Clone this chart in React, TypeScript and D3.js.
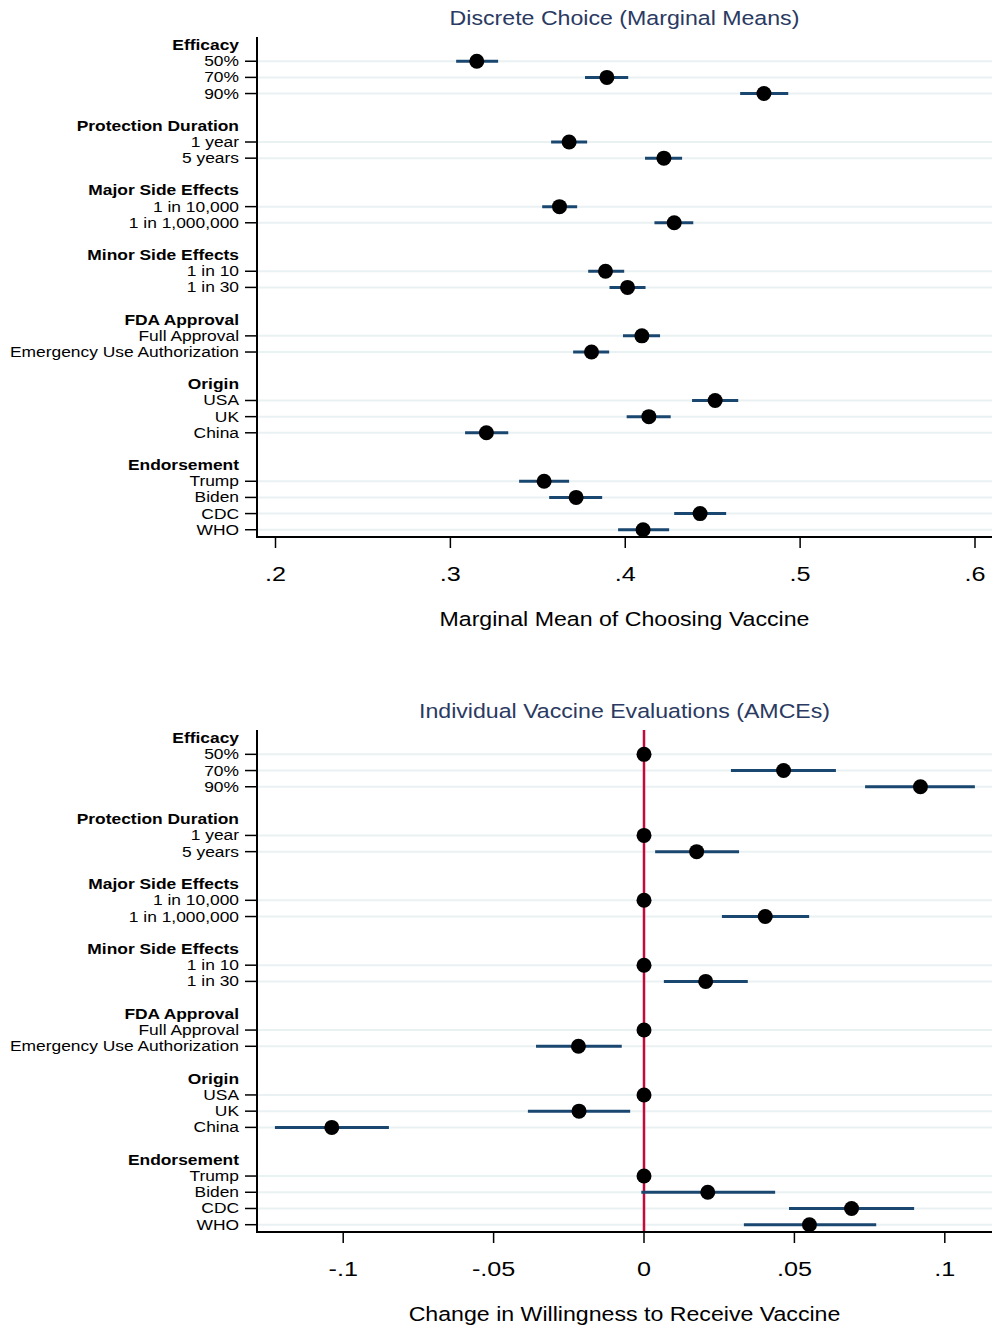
import React from "react";
import * as d3 from "d3";

// ---------- data ----------
const groups = [
  "Efficacy",
  "Protection Duration",
  "Major Side Effects",
  "Minor Side Effects",
  "FDA Approval",
  "Origin",
  "Endorsement",
];
const levels = [
  ["50%", "70%", "90%"],
  ["1 year", "5 years"],
  ["1 in 10,000", "1 in 1,000,000"],
  ["1 in 10", "1 in 30"],
  ["Full Approval", "Emergency Use Authorization"],
  ["USA", "UK", "China"],
  ["Trump", "Biden", "CDC", "WHO"],
];

// Marginal means (flat, in level order)
const mmEstimate = [0.3151, 0.3895, 0.4793, 0.3679, 0.4221, 0.3624, 0.428, 0.3887, 0.4013, 0.4095, 0.3807, 0.4514, 0.4135, 0.3206, 0.3536, 0.3719, 0.4428, 0.4102];
const mmLower = [0.3033, 0.377, 0.4657, 0.3576, 0.4113, 0.3525, 0.4167, 0.3788, 0.391, 0.3987, 0.3702, 0.4382, 0.4008, 0.3084, 0.3393, 0.3565, 0.428, 0.3959];
const mmUpper = [0.3273, 0.4017, 0.4932, 0.3782, 0.4325, 0.3725, 0.4389, 0.3994, 0.4116, 0.4199, 0.3908, 0.4646, 0.426, 0.3331, 0.3679, 0.3868, 0.4577, 0.4251];

// AMCEs (baseline levels = 0, no interval)
const amceEstimate = [0, 0.0464, 0.0919, 0, 0.0175, 0, 0.0403, 0, 0.0205, 0, -0.0218, 0, -0.0216, -0.1038, 0, 0.0212, 0.069, 0.055];
const amceLower = [null, 0.0289, 0.0735, null, 0.0037, null, 0.0259, null, 0.0066, null, -0.0359, null, -0.0386, -0.1227, null, -0.0009, 0.0482, 0.0332];
const amceUpper = [null, 0.0638, 0.11, null, 0.0316, null, 0.0549, null, 0.0345, null, -0.0074, null, -0.0046, -0.0848, null, 0.0436, 0.0898, 0.0772];

const mmTicks = [0.2, 0.3, 0.4, 0.5, 0.6];
const amceTicks = [-0.1, -0.05, 0, 0.05, 0.1];

// ---------- layout helpers ----------
type Row = { label: string; header: boolean; idx: number; dataIdx: number };

function buildRows(): Row[] {
  const rows: Row[] = [];
  let idx = 0;
  let d = 0;
  groups.forEach((g, gi) => {
    rows.push({ label: g, header: true, idx, dataIdx: -1 });
    idx++;
    levels[gi].forEach((l) => {
      rows.push({ label: l, header: false, idx, dataIdx: d });
      idx++;
      d++;
    });
    idx++; // blank row
  });
  return rows;
}
const rows = buildRows();
const nRows = rows[rows.length - 1].idx; // last index (30)

const FONT = "'Liberation Sans', Arial, Helvetica, sans-serif";
const NAVY = "#1a476f";
const GRID = "#eaf1f3";
const TITLE = "#2a3a62";
const RED = "#c30a3b";
const STRETCH = 1.2;

const fmt = (v: number) => {
  const s = String(+v.toFixed(4));
  return s.replace(/^(-?)0\./, "$1.");
};

function T({ x, y, anchor, size, weight, fill, children }: any) {
  return (
    <g transform={`translate(${x},${y}) scale(${STRETCH},1)`}>
      <text
        x={0}
        y={0}
        textAnchor={anchor}
        dominantBaseline="central"
        fontSize={size}
        fontWeight={weight || "normal"}
        fontFamily={FONT}
        fill={fill || "#000"}
      >
        {children}
      </text>
    </g>
  );
}

type PanelProps = {
  top: number;
  bottom: number;
  domain: [number, number];
  ticks: number[];
  title: string;
  xTitle: string;
  est: number[];
  lo: (number | null)[];
  hi: (number | null)[];
  refLine?: number;
};

const LEFT = 257;
const RIGHT = 992;

function Panel({ top, bottom, domain, ticks, title, xTitle, est, lo, hi, refLine }: PanelProps) {
  const x = d3.scaleLinear().domain(domain).range([LEFT, RIGHT]);
  const y = d3.scaleLinear().domain([-0.5, nRows + 0.45]).range([top, bottom]);
  const cx = (LEFT + RIGHT) / 2;
  return (
    <g>
      <T x={cx} y={top - 18} anchor="middle" size={19.3} fill={TITLE}>
        {title}
      </T>
      {/* grid lines */}
      {rows.filter((r) => !r.header).map((r) => (
        <line key={"g" + r.idx} x1={LEFT} x2={RIGHT} y1={y(r.idx)} y2={y(r.idx)} stroke={GRID} strokeWidth={2} />
      ))}
      {/* reference line */}
      {refLine !== undefined && (
        <line x1={x(refLine)} x2={x(refLine)} y1={top} y2={bottom} stroke={RED} strokeWidth={2.5} />
      )}
      {/* CIs */}
      {rows.filter((r) => !r.header && lo[r.dataIdx] !== null).map((r) => (
        <line
          key={"c" + r.idx}
          x1={x(lo[r.dataIdx] as number)}
          x2={x(hi[r.dataIdx] as number)}
          y1={y(r.idx)}
          y2={y(r.idx)}
          stroke={NAVY}
          strokeWidth={3}
        />
      ))}
      {/* points */}
      {rows.filter((r) => !r.header).map((r) => (
        <circle key={"p" + r.idx} cx={x(est[r.dataIdx])} cy={y(r.idx)} r={7.5} fill="#000" />
      ))}
      {/* y axis */}
      <line x1={LEFT} x2={LEFT} y1={top} y2={bottom + 1} stroke="#000" strokeWidth={2} />
      {rows.map((r) => (
        <g key={"l" + r.idx}>
          {!r.header && <line x1={LEFT - 12} x2={LEFT} y1={y(r.idx)} y2={y(r.idx)} stroke="#000" strokeWidth={1.5} />}
          <T x={239} y={y(r.idx)} anchor="end" size={14.5} weight={r.header ? "bold" : "normal"}>
            {r.label}
          </T>
        </g>
      ))}
      {/* x axis */}
      <line x1={LEFT - 1} x2={RIGHT} y1={bottom} y2={bottom} stroke="#000" strokeWidth={2} />
      {ticks.map((t) => (
        <g key={"t" + t}>
          <line x1={x(t)} x2={x(t)} y1={bottom} y2={bottom + 11} stroke="#000" strokeWidth={1.5} />
          <T x={x(t)} y={bottom + 37} anchor="middle" size={21}>
            {fmt(t)}
          </T>
        </g>
      ))}
      <T x={cx} y={bottom + 83} anchor="middle" size={19.3}>
        {xTitle}
      </T>
    </g>
  );
}

export default function App() {
  return (
    <svg width={992} height={1326} style={{ position: "absolute", left: 0, top: 0, background: "#fff" }}>
      <rect x={0} y={0} width={992} height={1326} fill="#fff" />
      <Panel
        top={37}
        bottom={537}
        domain={[0.18942, 0.60972]}
        ticks={mmTicks}
        title="Discrete Choice (Marginal Means)"
        xTitle="Marginal Mean of Choosing Vaccine"
        est={mmEstimate}
        lo={mmLower}
        hi={mmUpper}
      />
      <Panel
        top={730}
        bottom={1232}
        domain={[-0.12866, 0.11569]}
        ticks={amceTicks}
        title="Individual Vaccine Evaluations (AMCEs)"
        xTitle="Change in Willingness to Receive Vaccine"
        est={amceEstimate}
        lo={amceLower}
        hi={amceUpper}
        refLine={0}
      />
    </svg>
  );
}
